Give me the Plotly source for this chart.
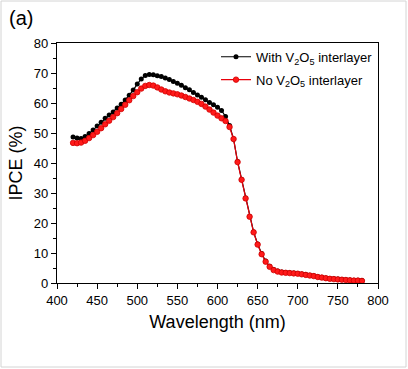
import plotly.graph_objects as go

wavelength = list(range(420, 781, 5))

with_v2o5 = [48.7, 48.3, 48.2, 48.8, 49.8, 51.0, 52.3, 53.6, 54.9, 56.0,
             57.0, 58.3, 59.6, 61.0, 62.6, 64.3, 66.3, 68.0, 69.2, 69.5,
             69.4, 69.1, 68.8, 68.3, 67.8, 67.2, 66.6, 65.9, 65.1, 64.4,
             63.5, 62.7, 61.9, 61.1, 60.2, 59.4, 58.6, 57.5, 55.5, 52.5,
             48.0, 40.5, 34.5, 28.3, 22.2, 17.0, 13.0, 9.8, 7.3, 5.6,
             4.5, 4.0, 3.7, 3.5, 3.4, 3.3, 3.2, 3.0, 2.8, 2.6,
             2.4, 2.1, 1.9, 1.7, 1.5, 1.4, 1.3, 1.2, 1.1, 1.0,
             0.9, 0.9, 0.8]

no_v2o5 = [46.7, 46.6, 46.8, 47.4, 48.3, 49.3, 50.4, 51.6, 52.9, 54.1,
           55.3, 56.6, 58.0, 59.4, 60.9, 62.3, 63.6, 64.8, 65.7, 66.0,
           65.8, 65.2, 64.5, 63.9, 63.5, 63.2, 62.9, 62.5, 62.0, 61.5,
           61.0, 60.4, 59.7, 58.8, 57.8, 56.8, 55.8, 54.9, 54.0, 52.0,
           48.0, 40.3, 34.4, 28.2, 22.1, 16.9, 12.8, 9.6, 7.1, 5.4,
           4.3, 3.8, 3.5, 3.4, 3.3, 3.2, 3.1, 2.9, 2.7, 2.5,
           2.3, 2.0, 1.8, 1.6, 1.4, 1.3, 1.2, 1.1, 1.0, 0.9,
           0.8, 0.8, 0.7]

x_ticks = [400, 450, 500, 550, 600, 650, 700, 750, 800]
y_ticks = [0, 10, 20, 30, 40, 50, 60, 70, 80]

font = "Liberation Sans, Arial, sans-serif"

fig = go.Figure()
fig.add_trace(go.Scatter(
    x=wavelength, y=with_v2o5, mode="lines+markers",
    name="With V<sub>2</sub>O<sub>5</sub> interlayer", legendgroup="a",
    line=dict(color="black", width=1.2),
    marker=dict(symbol="circle", size=5, color="black"),
))
fig.add_trace(go.Scatter(
    x=wavelength, y=no_v2o5, mode="lines+markers",
    name="No V<sub>2</sub>O<sub>5</sub> interlayer", legendgroup="b",
    line=dict(color="#e8000b", width=1.2),
    marker=dict(symbol="circle", size=5.5, color="#ff1a1a",
                line=dict(color="#d00000", width=0.8)),
))

axis_common = dict(
    showline=True, linecolor="black", linewidth=1.3, mirror=True,
    ticks="outside", ticklen=5, tickwidth=1.2, tickcolor="black",
    showgrid=False, zeroline=False,
    tickfont=dict(family=font, size=13, color="black"),
)

fig.update_xaxes(
    range=[400, 800], tickvals=x_ticks,
    minor=dict(ticks="outside", ticklen=3, tickwidth=1, tickcolor="black", dtick=25, tick0=400),
    title=dict(text="Wavelength (nm)", font=dict(family=font, size=18, color="black"), standoff=8),
    **axis_common,
)
fig.update_yaxes(
    range=[0, 80], tickvals=y_ticks,
    minor=dict(ticks="outside", ticklen=3, tickwidth=1, tickcolor="black", dtick=5, tick0=0),
    title=dict(text="IPCE (%)", font=dict(family=font, size=18, color="black"), standoff=6),
    **axis_common,
)

fig.update_layout(
    width=408, height=369,
    margin=dict(l=57, r=30, t=43, b=86),
    paper_bgcolor="white", plot_bgcolor="white",
    showlegend=True,
    legend=dict(
        x=1.0, y=1.005, xanchor="right", yanchor="top",
        bgcolor="rgba(0,0,0,0)", borderwidth=0,
        font=dict(family=font, size=13, color="black"),
        itemwidth=30, tracegroupgap=3,
    ),
    annotations=[dict(
        text="(a)", x=-0.155, y=1.16, xref="paper", yref="paper",
        xanchor="left", yanchor="top", showarrow=False,
        font=dict(family=font, size=20, color="black"),
    )],
    shapes=[dict(
        type="rect", xref="paper", yref="paper",
        x0=(1 - 57) / 321, x1=(406 - 57) / 321,
        y0=(283 - 367) / 240, y1=(283 - 1) / 240,
        line=dict(color="#d4d4d4", width=1), fillcolor="rgba(0,0,0,0)",
        layer="below",
    )],
)

fig.write_html(
    "out.html",
    config={"displayModeBar": False},
    post_script="document.body.style.margin='0';document.body.style.overflow='hidden';",
)
